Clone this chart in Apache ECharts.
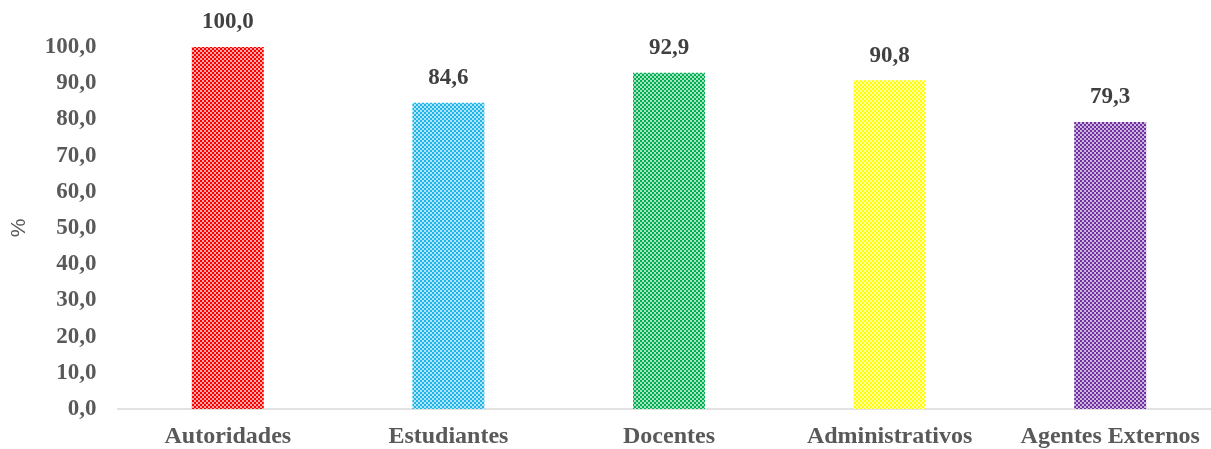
<!DOCTYPE html>
<html>
<head>
<meta charset="utf-8">
<script src="https://cdn.jsdelivr.net/npm/echarts@6/dist/echarts.min.js"></script>
<style>html,body{margin:0;padding:0;background:#fff}#c{width:1211px;height:449px}</style>
</head>
<body>
<div id="c"></div>
<script>
var categories = ['Autoridades', 'Estudiantes', 'Docentes', 'Administrativos', 'Agentes Externos'];
var values = [100.0, 84.6, 92.9, 90.8, 79.3];
var barColors = ['#FF0000', '#1FB4EC', '#00B050', '#FFFF00', '#7030A0'];
var yTicks = [0, 10, 20, 30, 40, 50, 60, 70, 80, 90, 100];

function makePattern(col) {
  var c = document.createElement('canvas');
  c.width = 4; c.height = 4;
  var ctx = c.getContext('2d');
  ctx.fillStyle = '#ffffff';
  ctx.fillRect(0, 0, 4, 4);
  ctx.fillStyle = col;
  ctx.fillRect(0, 0, 2, 2);
  ctx.fillRect(2, 2, 2, 2);
  ctx.globalAlpha = 0.35;
  ctx.fillRect(2, 0, 2, 2);
  ctx.fillRect(0, 2, 2, 2);
  return c;
}

function fmt(v) { return v.toFixed(1).replace('.', ','); }

var chart = echarts.init(document.getElementById('c'));
chart.setOption({
  animation: false,
  grid: { left: 117.5, width: 1103, top: 47, bottom: 40, containLabel: false, outerBoundsMode: 'none' },
  xAxis: {
    type: 'category',
    data: categories,
    axisLine: { lineStyle: { color: '#D9D9D9', width: 1.5 } },
    axisTick: { show: false },
    axisLabel: {
      color: '#595959', fontFamily: 'Liberation Serif', fontWeight: 'bold', fontSize: 24,
      margin: 16, interval: 0
    }
  },
  yAxis: {
    type: 'value',
    min: yTicks[0], max: yTicks[yTicks.length - 1], interval: 10,
    name: '%',
    nameLocation: 'middle',
    nameGap: 88,
    nameRotate: 90,
    nameTextStyle: { color: '#595959', fontFamily: 'Liberation Sans', fontSize: 21 },
    axisLine: { show: false },
    axisTick: { show: false },
    splitLine: { show: false },
    axisLabel: {
      color: '#595959', fontFamily: 'Liberation Serif', fontWeight: 'bold', fontSize: 23,
      margin: 21,
      formatter: function (v) { return fmt(v); }
    }
  },
  series: [{
    type: 'bar',
    data: values.map(function (v, i) {
      return { value: v, itemStyle: { color: { image: makePattern(barColors[i]), repeat: 'repeat' } } };
    }),
    barWidth: 72,
    label: {
      show: true, position: 'top', distance: 13,
      color: '#404040', fontFamily: 'Liberation Serif', fontWeight: 'bold', fontSize: 23,
      formatter: function (p) { return fmt(p.value); }
    }
  }]
});
</script>
</body>
</html>
